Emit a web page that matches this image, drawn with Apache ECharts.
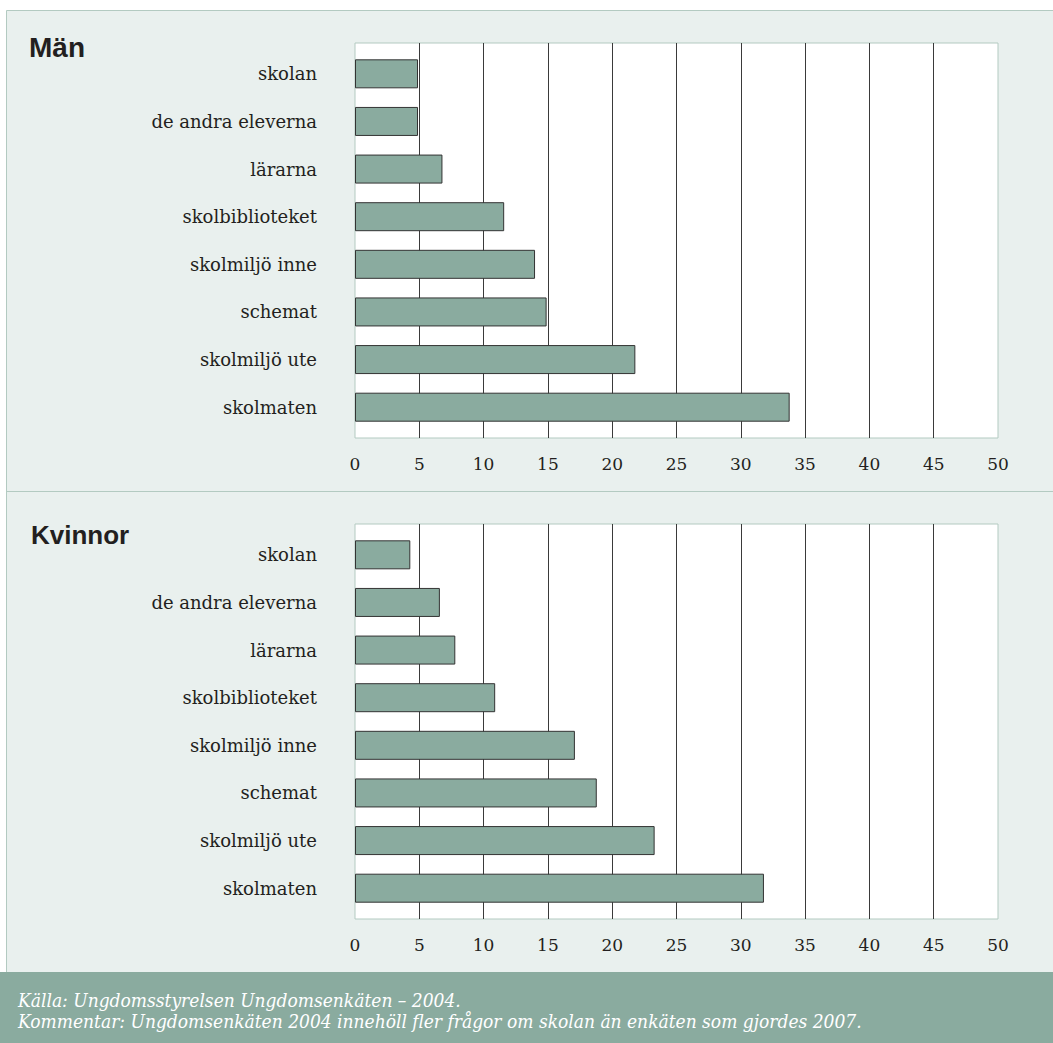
<!DOCTYPE html>
<html>
<head>
<meta charset="utf-8">
<script src="https://cdn.jsdelivr.net/npm/echarts@6/dist/echarts.min.js"></script>
<style>
  html, body { margin: 0; padding: 0; background: #ffffff; }
  #chart { width: 1053px; height: 1043px; }
</style>
</head>
<body>
<div id="chart"></div>
<script>
// Survey answers, percent, for each part of school life
const categories = ['skolan', 'de andra eleverna', 'lärarna', 'skolbiblioteket',
  'skolmiljö inne', 'schemat', 'skolmiljö ute', 'skolmaten'];
const menValues   = [4.9, 4.9, 6.8, 11.6, 14.0, 14.9, 21.8, 33.8];
const womenValues = [4.3, 6.6, 7.8, 10.9, 17.1, 18.8, 23.3, 31.8];
const tickLabels  = [0, 5, 10, 15, 20, 25, 30, 35, 40, 45, 50];
const panelTitles = ['Män', 'Kvinnor'];
const sourceLines = [
  'Källa: Ungdomsstyrelsen Ungdomsenkäten – 2004.',
  'Kommentar: Ungdomsenkäten 2004 innehöll fler frågor om skolan än enkäten som gjordes 2007.'
];

const SERIF = '"DejaVu Serif", serif';
const TEXT = '#231f20';
const BAR = '#8aab9f';
const FRAME = '#b3cac1';
const PANEL_BG = '#e9f0ee';

const axisMin = tickLabels[0];
const axisMax = tickLabels[tickLabels.length - 1];
const step = tickLabels[1] - tickLabels[0];

// Two panels: a white plot box with grid lines, and an inset grid holding the bars
const panels = [
  { top: 43, values: menValues },
  { top: 524, values: womenValues }
];
const PLOT_LEFT = 355, PLOT_W = 643, PLOT_H = 395, BAND_INSET = 7;

const grid = [], xAxis = [], yAxis = [], series = [];
panels.forEach((p, i) => {
  const bg = i * 2, bars = i * 2 + 1;
  grid.push({
    left: PLOT_LEFT, top: p.top, width: PLOT_W, height: PLOT_H,
    show: true, backgroundColor: '#ffffff', borderColor: FRAME, borderWidth: 1
  });
  grid.push({
    left: PLOT_LEFT, top: p.top + BAND_INSET, width: PLOT_W, height: PLOT_H - 2 * BAND_INSET
  });
  xAxis.push({
    gridIndex: bg, type: 'value', min: axisMin, max: axisMax, interval: step,
    axisLine: { show: false }, axisTick: { show: false },
    axisLabel: {
      margin: 17, fontFamily: SERIF, fontSize: 17, color: TEXT,
      showMinLabel: true, showMaxLabel: true
    },
    splitLine: { show: true, showMinLine: false, showMaxLine: false,
      lineStyle: { color: '#3a3a3a', width: 1 } }
  });
  xAxis.push({ gridIndex: bars, type: 'value', min: axisMin, max: axisMax, show: false });
  yAxis.push({ gridIndex: bg, type: 'value', min: 0, max: 1, show: false });
  yAxis.push({
    gridIndex: bars, type: 'category', inverse: true, data: categories,
    axisLine: { show: false }, axisTick: { show: false },
    axisLabel: { margin: 38, fontFamily: SERIF, fontSize: 18, color: TEXT }
  });
  series.push({
    type: 'bar', xAxisIndex: bars, yAxisIndex: bars, data: p.values,
    barWidth: 29, silent: true,
    itemStyle: { color: BAR, borderColor: '#333333', borderWidth: 1 }
  });
});

const option = {
  animation: false,
  backgroundColor: '#ffffff',
  title: panelTitles.map((t, i) => ({
    text: t, left: i === 0 ? 29 : 31, top: i === 0 ? 33 : 522,
    padding: 0,
    textStyle: { fontFamily: '"Liberation Sans", Arial, sans-serif', fontWeight: 'bold',
      fontSize: i === 0 ? 28 : 26, color: TEXT }
  })),
  graphic: [
    { type: 'rect', z: -100, silent: true,
      shape: { x: 6.5, y: 10.5, width: 1100, height: 962 },
      style: { fill: PANEL_BG, stroke: FRAME, lineWidth: 1 } },
    { type: 'line', z: -99, silent: true,
      shape: { x1: 6.5, y1: 491.5, x2: 1053, y2: 491.5 },
      style: { stroke: FRAME, lineWidth: 1 } },
    { type: 'rect', z: -98, silent: true,
      shape: { x: 0, y: 972, width: 1053, height: 71 },
      style: { fill: BAR } },
    ...sourceLines.map((line, i) => ({
      type: 'text', z: 10, silent: true,
      x: 18, y: 1000 + i * 21,
      style: { text: line, fill: '#ffffff', fontFamily: '"DejaVu Serif Condensed", "DejaVu Serif", serif',
        fontStyle: 'italic', fontSize: 19, textVerticalAlign: 'middle', verticalAlign: 'middle' }
    }))
  ],
  grid, xAxis, yAxis, series
};

const chart = echarts.init(document.getElementById('chart'), null, { renderer: 'svg' });
chart.setOption(option);
</script>
</body>
</html>
